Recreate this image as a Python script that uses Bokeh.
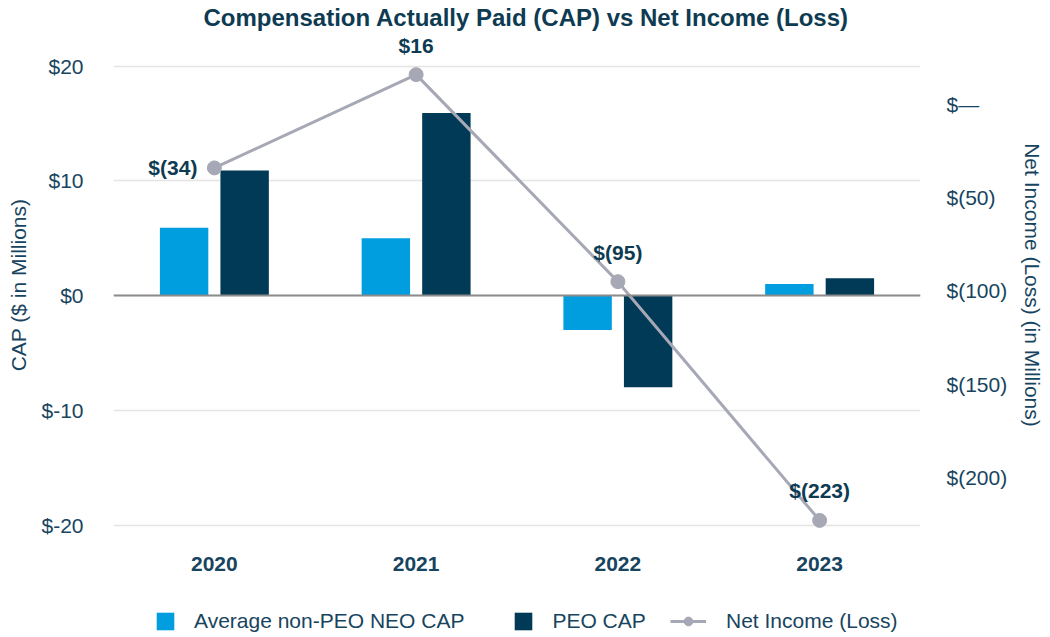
from bokeh.plotting import figure
from bokeh.models import (FactorRange, Range1d, LinearAxis, FixedTicker, CustomJSTickFormatter,
                          ColumnDataSource, Span, Legend, LegendItem)
from bokeh.layouts import column
from bokeh.transform import dodge
from bokeh.core.properties import value
from bokeh.embed import file_html
from bokeh.resources import INLINE

# ---- data ----
years = ["2020", "2021", "2022", "2023"]
neo_cap = [5.9, 5.0, -3.0, 1.0]          # Average non-PEO NEO CAP ($M)
peo_cap = [10.9, 15.9, -8.0, 1.5]        # PEO CAP ($M)
net_income = [-34, 16, -95, -223]        # Net Income (Loss) ($M)
net_income_labels = ["$(34)", "$16", "$(95)", "$(223)"]
left_ticks = [-20, -10, 0, 10, 20]
right_ticks = [0, -50, -100, -150, -200]
series_names = ["Average non-PEO NEO CAP", "PEO CAP", "Net Income (Loss)"]

FONT = "Liberation Sans"
TXT = "#17445E"
LIGHT = "#009DDF"
DARK = "#003A57"
GRAY = "#A6A8B5"
FS = "21px"

src = ColumnDataSource(dict(year=years, neo=neo_cap, peo=peo_cap, ni=net_income, lab=net_income_labels))
src_first = ColumnDataSource(dict(year=years[:1], ni=net_income[:1], lab=net_income_labels[:1]))
src_rest = ColumnDataSource(dict(year=years[1:], ni=net_income[1:], lab=net_income_labels[1:]))

p = figure(frame_width=807, frame_height=507, x_range=FactorRange(factors=years),
           y_range=Range1d(-21.17, 23.01), output_backend="svg", toolbar_location=None,
           min_border_left=113, min_border_right=110, min_border_top=29, min_border_bottom=60)
p.extra_y_ranges = {"ni": Range1d(-232.71, 39.14)}
p.outline_line_color = None
p.background_fill_color = "white"

p.title.text = "Compensation Actually Paid (CAP) vs Net Income (Loss)"
p.title.text_font = FONT
p.title.text_font_size = "24px"
p.title.text_font_style = "bold"
p.title.text_color = "#0E3B52"
p.title.align = "left"
p.title.offset = 90
p.title.standoff = 2

# left axis
yax = p.yaxis[0]
yax.ticker = FixedTicker(ticks=left_ticks)
yax.formatter = CustomJSTickFormatter(code="return '$' + tick;")
yax.axis_label = "CAP ($ in Millions)"

# right axis
rax = LinearAxis(y_range_name="ni", ticker=FixedTicker(ticks=right_ticks),
                 formatter=CustomJSTickFormatter(code="return tick == 0 ? '$\u2014' : '$(' + Math.abs(tick) + ')';"),
                 axis_label="Net Income (Loss) (in Millions)")
p.add_layout(rax, "right")

for ax in [yax, rax, p.xaxis[0]]:
    ax.axis_line_color = None
    ax.major_tick_line_color = None
    ax.minor_tick_line_color = None
    ax.major_tick_out = 0
    ax.minor_tick_out = 0
    ax.major_label_text_font = FONT
    ax.major_label_text_font_size = FS
    ax.major_label_text_color = TXT
    ax.axis_label_text_font = FONT
    ax.axis_label_text_font_size = FS
    ax.axis_label_text_color = TXT
    ax.axis_label_text_font_style = "normal"

yax.major_label_standoff = 30
yax.axis_label_standoff = 8
rax.major_label_standoff = 26
rax.axis_label_standoff = 11
p.xaxis[0].major_label_text_font_style = "bold"
p.xaxis[0].major_label_standoff = 18

p.xgrid.grid_line_color = None
p.ygrid.ticker = FixedTicker(ticks=left_ticks)
p.ygrid.grid_line_color = "#E4E4E4"
p.ygrid.grid_line_width = 1.5

p.add_layout(Span(location=0, dimension="width", line_color="#8C8C8C", line_width=2))

b1 = p.vbar(x=dodge("year", -0.15, range=p.x_range), top="neo", width=0.24, source=src,
            fill_color=LIGHT, line_color=None)
b2 = p.vbar(x=dodge("year", 0.15, range=p.x_range), top="peo", width=0.24, source=src,
            fill_color=DARK, line_color=None)

ln = p.line(x="year", y="ni", source=src, y_range_name="ni", line_color=GRAY, line_width=3)
sc = p.scatter(x="year", y="ni", source=src, y_range_name="ni", size=14,
               fill_color=GRAY, line_color=GRAY)

p.text(x="year", y="ni", text="lab", source=src_first, y_range_name="ni",
       text_font=value(FONT), text_font_size=FS, text_font_style="bold",
       text_color="#0E3B52", text_align="right", text_baseline="middle", x_offset=-17)
p.text(x="year", y="ni", text="lab", source=src_rest, y_range_name="ni",
       text_font=value(FONT), text_font_size=FS, text_font_style="bold",
       text_color="#0E3B52", text_align="center", text_baseline="bottom", y_offset=-18)

# ---- legend strip: a small figure whose ranges keep its copies of the series out of view ----
lg = figure(width=1034, height=37, x_range=FactorRange(factors=years), y_range=Range1d(1000, 1001),
            output_backend="svg", toolbar_location=None,
            x_axis_location=None, y_axis_location=None,
            min_border=0, outline_line_color=None)
lg.grid.visible = False
s1 = lg.vbar(x="year", top="neo", width=0.24, source=src, fill_color=LIGHT, line_color=None)
s2 = lg.vbar(x="year", top="peo", width=0.24, source=src, fill_color=DARK, line_color=None)
s3 = lg.line(x="year", y="ni", source=src, line_color=GRAY, line_width=3)
s4 = lg.scatter(x="year", y="ni", source=src, size=11, fill_color=GRAY, line_color=GRAY)

common = dict(orientation="horizontal", glyph_height=22, label_standoff=18, spacing=48,
              label_text_font=FONT, label_text_font_size=FS, label_text_color=TXT,
              border_line_color=None, background_fill_alpha=0, margin=0, padding=4)
legA = Legend(items=[LegendItem(label=series_names[0], renderers=[s1]),
                     LegendItem(label=series_names[1], renderers=[s2])],
              glyph_width=22, location=(41, 2), **common)
legB = Legend(items=[LegendItem(label=series_names[2], renderers=[s3, s4])],
              glyph_width=36, location=(557, 2), **common)
legB.label_standoff = 20
lg.add_layout(legA)
lg.add_layout(legB)

open("out.html", "w").write(file_html(column(p, lg, spacing=0), INLINE))
